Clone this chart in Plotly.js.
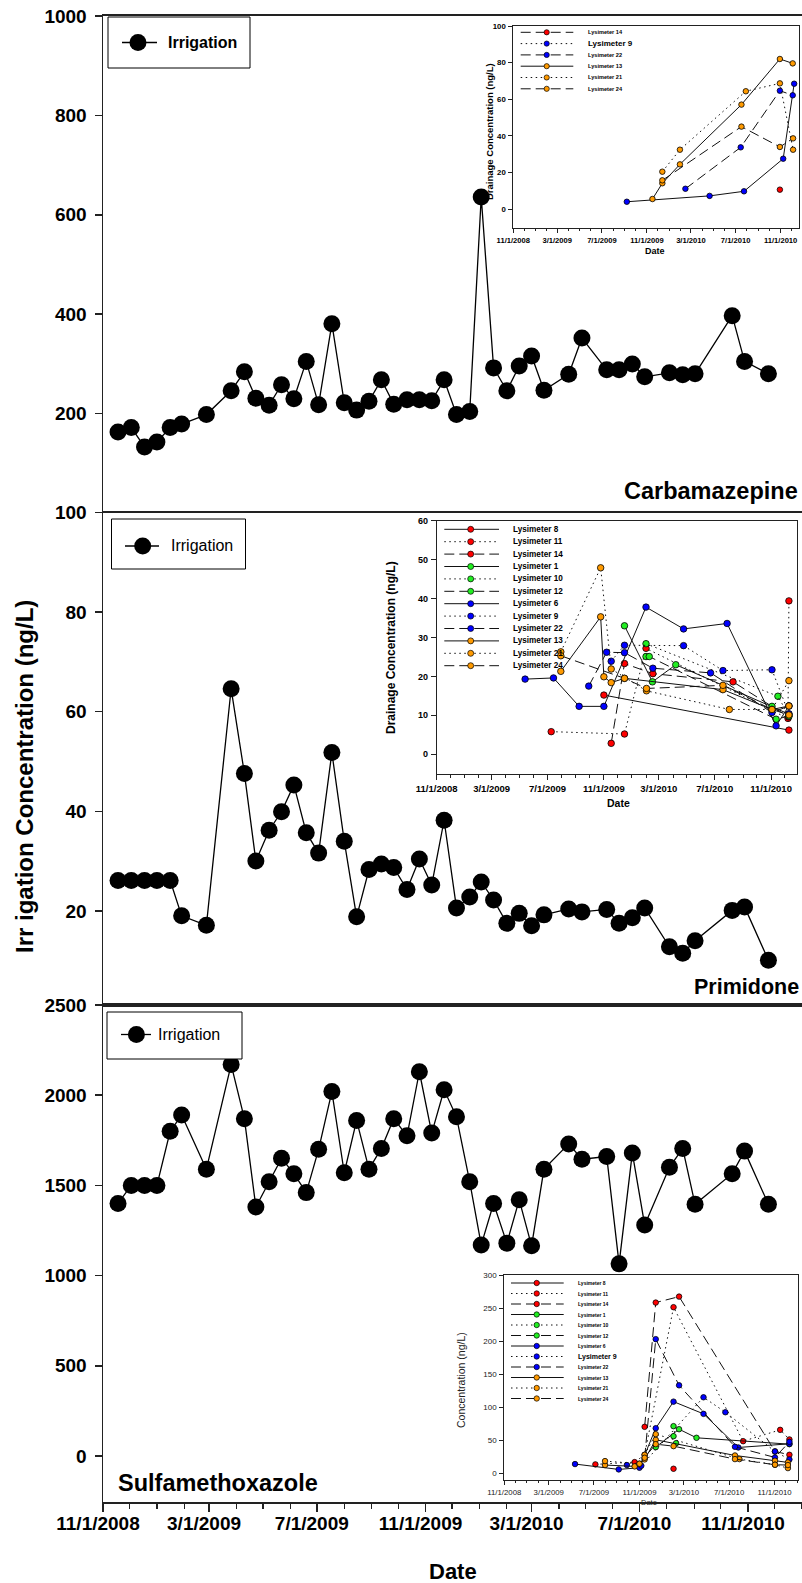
<!DOCTYPE html>
<html><head><meta charset="utf-8">
<script src="https://cdn.plot.ly/plotly-3.0.1.min.js"></script>
<style>html,body{margin:0;padding:0;background:#fff}#chart{width:802px;height:1583px}</style>
</head><body><div id="chart"></div>
<script>
// ---------------- DATA ----------------
const sampleDates = ['2008-11-18','2008-12-03','2008-12-18','2009-01-01','2009-01-16','2009-01-29','2009-02-26','2009-03-26','2009-04-10','2009-04-23','2009-05-08','2009-05-22','2009-06-05','2009-06-19','2009-07-03','2009-07-18','2009-08-01','2009-08-15','2009-08-29','2009-09-12','2009-09-26','2009-10-11','2009-10-25','2009-11-08','2009-11-22','2009-12-06','2009-12-21','2010-01-03','2010-01-17','2010-02-01','2010-02-15','2010-03-01','2010-03-15','2010-04-12','2010-04-27','2010-05-25','2010-06-08','2010-06-23','2010-07-07','2010-08-04','2010-08-19','2010-09-02','2010-10-14','2010-10-28','2010-11-24'];
const carbamazepine = [163,172,133,143,172,179,198,246,284,231,217,258,230,305,218,381,222,207,225,268,219,228,228,226,268,198,204,636,292,246,296,316,247,279,352,288,288,300,274,282,278,280,397,305,280];
const primidone = [26.1,26.1,26.1,26.1,26.1,19.0,17.1,64.6,47.6,30.0,36.2,39.9,45.3,35.7,31.6,51.8,34.0,18.8,28.3,29.4,28.7,24.3,30.4,25.2,38.2,20.6,22.8,25.8,22.2,17.5,19.5,17.0,19.2,20.4,19.8,20.3,17.5,18.6,20.6,12.8,11.5,14.0,20.1,20.8,10.1];
const sulfamethoxazole = [1400,1500,1500,1500,1800,1890,1590,2170,1870,1380,1520,1650,1565,1460,1700,2020,1570,1860,1590,1705,1870,1775,2130,1790,2030,1880,1520,1170,1400,1180,1420,1165,1590,1730,1645,1660,1065,1680,1280,1600,1705,1395,1565,1690,1395];
const mainYTicks1 = [200,400,600,800,1000];
const mainYTicks2 = [20,40,60,80,100];
const mainYTicks3 = [0,500,1000,1500,2000,2500];

// Carbamazepine drainage (inset 1)
const cbzLys14 = [['2010-10-30',10.7]];
const cbzLys9  = [['2009-09-07',4.1],['2010-04-21',7.3],['2010-07-24',9.8],['2010-11-08',27.6],['2010-12-08',68.5]];
const cbzLys22 = [['2010-02-14',11.2],['2010-07-15',33.8],['2010-10-30',64.7],['2010-12-04',62.2]];
const cbzLys13 = [['2009-11-16',5.6],['2009-12-13',14.2],['2010-01-30',24.5],['2010-07-17',57.1],['2010-10-30',82.0],['2010-12-04',79.6]];
const cbzLys21 = [['2009-12-13',20.5],['2010-01-30',32.5],['2010-07-29',64.4],['2010-10-30',68.7],['2010-12-05',32.5]];
const cbzLys24 = [['2009-12-13',15.8],['2010-07-17',45.1],['2010-10-30',34.0],['2010-12-05',38.7]];

// Primidone drainage (inset 2)
const pmdLys8  = [['2009-11-01',15.2],['2010-12-10',6.2]];
const pmdLys11 = [['2009-07-09',5.8],['2009-12-16',5.2],['2010-02-01',27.2],['2010-12-08',9.2],['2010-12-10',39.4]];
const pmdLys14 = [['2009-11-17',2.8],['2009-12-16',23.3],['2010-02-16',20.7],['2010-08-10',18.6],['2010-12-09',9.6]];
const pmdLys1  = [['2009-12-16',33.0],['2010-02-15',18.6],['2010-04-07',23.0],['2010-11-03',12.3],['2010-12-10',10.3]];
const pmdLys10 = [['2010-02-01',28.4],['2010-11-16',14.9],['2010-12-10',9.8]];
const pmdLys12 = [['2010-02-01',25.1],['2010-02-08',25.1],['2010-11-12',9.0],['2010-12-10',9.8]];
const pmdLys6  = [['2009-05-13',19.3],['2009-07-14',19.6],['2009-09-08',12.3],['2009-11-01',12.3],['2010-02-01',37.8],['2010-04-24',32.2],['2010-07-28',33.6],['2010-11-12',7.3],['2010-12-10',12.4]];
const pmdLys9  = [['2009-11-17',23.9],['2009-12-16',28.0],['2010-04-24',27.9],['2010-07-19',21.5],['2010-11-03',21.7],['2010-12-10',10.4]];
const pmdLys22 = [['2009-09-29',17.5],['2009-11-07',26.2],['2009-12-16',26.1],['2010-02-16',22.1],['2010-06-22',20.9],['2010-11-03',10.7],['2010-12-10',12.4]];
const pmdLys13 = [['2009-07-30',21.3],['2009-10-25',35.3],['2009-11-01',19.9],['2009-11-17',18.4],['2009-12-16',19.5],['2010-07-19',16.6],['2010-11-03',11.5],['2010-12-10',12.4]];
const pmdLys21 = [['2009-07-30',26.3],['2009-10-25',47.9],['2009-11-17',21.9],['2010-02-02',16.3],['2010-08-02',11.5],['2010-11-03',11.5],['2010-12-10',18.9]];
const pmdLys24 = [['2009-07-30',25.3],['2009-12-16',19.5],['2010-02-02',16.9],['2010-07-19',17.7],['2010-11-03',11.5],['2010-12-10',10.1]];

// Sulfamethoxazole drainage (inset 3)
const smxLys8  = [['2010-02-01',7.0]];
const smxLys11 = [['2009-07-05',13.6],['2009-10-19',17.1],['2009-11-15',28.1],['2010-02-01',251.3],['2010-08-08',48.7],['2010-11-16',65.8],['2010-12-11',51.3]];
const smxLys14 = [['2009-11-15',70.4],['2009-12-15',258.3],['2010-02-16',267.3],['2010-11-02',33.2],['2010-12-11',28.1]];
const smxLys1  = [['2009-12-15',39.7],['2010-02-16',66.8],['2010-04-04',53.8],['2010-12-11',44.2]];
const smxLys10 = [['2010-02-01',71.4],['2010-02-08',45.7]];
const smxLys12 = [['2010-02-01',56.3]];
const smxLys6  = [['2009-05-11',14.1],['2009-09-06',6.0],['2009-11-01',8.5],['2009-12-15',68.3],['2010-02-01',108.5],['2010-04-23',90.0],['2010-07-26',39.2],['2010-12-11',44.7]];
const smxLys9  = [['2009-09-28',12.6],['2009-11-06',11.6],['2010-04-23',115.1],['2010-06-21',92.5],['2010-11-02',33.2],['2010-12-11',21.1]];
const smxLys22 = [['2009-11-15',23.6],['2009-12-15',203.0],['2010-02-16',133.2],['2010-07-17',40.2],['2010-11-02',24.1],['2010-12-11',47.7]];
const smxLys13 = [['2009-07-31',12.6],['2009-10-19',10.6],['2009-11-15',21.1],['2009-12-15',50.8],['2010-07-17',27.1],['2010-11-02',19.1],['2010-12-07',16.6]];
const smxLys21 = [['2009-07-31',18.6],['2009-11-01',14.6],['2009-11-15',28.1],['2009-12-15',59.3],['2010-07-29',21.6],['2010-11-02',13.1],['2010-12-07',8.0]];
const smxLys24 = [['2009-11-01',14.6],['2009-11-15',23.6],['2009-12-15',44.2],['2010-02-01',41.2],['2010-07-17',21.6],['2010-11-02',13.1],['2010-12-07',12.6]];

// ---------------- STYLE / LAYOUT HELPERS ----------------
const W = 802, H = 1583;
const px = x => x / W;
const py = y => 1 - y / H;
const FONT = '"Liberation Sans", Arial, Helvetica, sans-serif';
const RED = '#ff0000', GREEN = '#22ee22', BLUE = '#0000ff', ORANGE = '#ff9a00';
const DASH = {solid: 'solid', dot: '1.5px,3.5px', dash: '10px,5px'};

const inset1Series = [
  {name:'Lysimeter 14', data:cbzLys14, color:RED, dash:'dash'},
  {name:'Lysimeter 9', data:cbzLys9, color:BLUE, dash:'dot', lineDash:'solid', big:true},
  {name:'Lysimeter 22', data:cbzLys22, color:BLUE, dash:'dash'},
  {name:'Lysimeter 13', data:cbzLys13, color:ORANGE, dash:'solid'},
  {name:'Lysimeter 21', data:cbzLys21, color:ORANGE, dash:'dot'},
  {name:'Lysimeter 24', data:cbzLys24, color:ORANGE, dash:'dash'}
];
const inset2Series = [
  {name:'Lysimeter 8', data:pmdLys8, color:RED, dash:'solid'},
  {name:'Lysimeter 11', data:pmdLys11, color:RED, dash:'dot'},
  {name:'Lysimeter 14', data:pmdLys14, color:RED, dash:'dash'},
  {name:'Lysimeter 1', data:pmdLys1, color:GREEN, dash:'solid'},
  {name:'Lysimeter 10', data:pmdLys10, color:GREEN, dash:'dot'},
  {name:'Lysimeter 12', data:pmdLys12, color:GREEN, dash:'dash'},
  {name:'Lysimeter 6', data:pmdLys6, color:BLUE, dash:'solid'},
  {name:'Lysimeter 9', data:pmdLys9, color:BLUE, dash:'dot'},
  {name:'Lysimeter 22', data:pmdLys22, color:BLUE, dash:'dash'},
  {name:'Lysimeter 13', data:pmdLys13, color:ORANGE, dash:'solid'},
  {name:'Lysimeter 21', data:pmdLys21, color:ORANGE, dash:'dot'},
  {name:'Lysimeter 24', data:pmdLys24, color:ORANGE, dash:'dash'}
];
const inset3Series = [
  {name:'Lysimeter 8', data:smxLys8, color:RED, dash:'solid'},
  {name:'Lysimeter 11', data:smxLys11, color:RED, dash:'dot'},
  {name:'Lysimeter 14', data:smxLys14, color:RED, dash:'dash'},
  {name:'Lysimeter 1', data:smxLys1, color:GREEN, dash:'solid'},
  {name:'Lysimeter 10', data:smxLys10, color:GREEN, dash:'dot'},
  {name:'Lysimeter 12', data:smxLys12, color:GREEN, dash:'dash'},
  {name:'Lysimeter 6', data:smxLys6, color:BLUE, dash:'solid'},
  {name:'Lysimeter 9', data:smxLys9, color:BLUE, dash:'dot', big:true},
  {name:'Lysimeter 22', data:smxLys22, color:BLUE, dash:'dash'},
  {name:'Lysimeter 13', data:smxLys13, color:ORANGE, dash:'solid'},
  {name:'Lysimeter 21', data:smxLys21, color:ORANGE, dash:'dot'},
  {name:'Lysimeter 24', data:smxLys24, color:ORANGE, dash:'dash'}
];

const traces = [];
function mainTrace(vals, xa, ya) {
  traces.push({type:'scatter', mode:'lines+markers', x:sampleDates, y:vals, xaxis:xa, yaxis:ya,
    name:'Irrigation', line:{color:'#000', width:1.3}, marker:{color:'#000', size:17}, cliponaxis:false});
}
mainTrace(carbamazepine, 'x', 'y');
mainTrace(primidone, 'x2', 'y2');
mainTrace(sulfamethoxazole, 'x3', 'y3');

function insetTraces(series, xa, ya, msize) {
  series.forEach(s => {
    traces.push({type:'scatter', mode:'lines+markers', name:s.name, xaxis:xa, yaxis:ya,
      x:s.data.map(d => d[0]), y:s.data.map(d => d[1]),
      line:{color:'#111', width:1, dash:DASH[s.lineDash || s.dash]},
      marker:{color:s.color, size:msize, line:{color:'#000', width:0.8}}});
  });
}
insetTraces(inset1Series, 'x4', 'y4', 5.5);
insetTraces(inset2Series, 'x5', 'y5', 6.5);
insetTraces(inset3Series, 'x6', 'y6', 5.5);

const shapes = [];
const annotations = [];
function ann(x, y, text, size, opts) {
  annotations.push(Object.assign({xref:'paper', yref:'paper', x:px(x), y:py(y), text:text, showarrow:false,
    xanchor:'center', yanchor:'middle', font:{family:FONT, size:size, color:'#000'}}, opts || {}));
}
function bold(size) { return {family:FONT, size:size, color:'#000', weight:'bold'}; }

// main legends (Irrigation)
function mainLegend(box, lx0, lx1, ly, mx, tx, fontW) {
  shapes.push({type:'rect', xref:'paper', yref:'paper', x0:px(box[0]), y0:py(box[1]), x1:px(box[2]), y1:py(box[3]),
    line:{color:'#000', width:1}, fillcolor:'#fff'});
  shapes.push({type:'line', xref:'paper', yref:'paper', x0:px(lx0), x1:px(lx1), y0:py(ly), y1:py(ly), line:{color:'#000', width:1.3}});
  shapes.push({type:'circle', xref:'paper', yref:'paper', xsizemode:'pixel', ysizemode:'pixel', xanchor:px(mx), yanchor:py(ly),
    x0:-8.5, x1:8.5, y0:-8.5, y1:8.5, fillcolor:'#000', line:{color:'#000', width:0}});
  ann(tx, ly, 'Irrigation', 16, {xanchor:'left', font:{family:FONT, size:16, color:'#000', weight:fontW}});
}
mainLegend([108,17,250,68], 122, 157, 42.5, 138, 166, 'bold');
mainLegend([111.5,519,245.5,569], 125, 159, 546, 142.7, 169, 'normal');
mainLegend([107,1012,242,1059], 121, 151, 1034.5, 136.4, 156, 'normal');

// inset legends
function insetLegend(series, o) {
  series.forEach((s, i) => {
    const y = o.top + i * o.step;
    shapes.push({type:'line', xref:'paper', yref:'paper', x0:px(o.x0), x1:px(o.x1), y0:py(y), y1:py(y),
      line:{color:'#111', width:1, dash:DASH[s.dash]}});
    shapes.push({type:'circle', xref:'paper', yref:'paper', xsizemode:'pixel', ysizemode:'pixel', xanchor:px(o.xm), yanchor:py(y),
      x0:-o.r, x1:o.r, y0:-o.r, y1:o.r, fillcolor:s.color, line:{color:'#000', width:0.7}});
    ann(o.xt, y, s.name, s.big ? o.big : o.size, {xanchor:'left', font:bold(s.big ? o.big : o.size)});
  });
}
insetLegend(inset1Series, {top:32.3, step:11.3, x0:520.7, x1:573.3, xm:546.7, xt:585.5, r:2.6, size:5.6, big:8});
insetLegend(inset2Series, {top:529.3, step:12.4, x0:444.3, x1:499, xm:470.7, xt:510.5, r:3, size:8.2, big:8.4});
insetLegend(inset3Series, {top:1283, step:10.5, x0:511, x1:563.7, xm:536.7, xt:576, r:2.7, size:5, big:7});

// panel labels and titles
ann(800, 491, 'Carbamazepine', 23.5, {xanchor:'right', font:bold(23.5)});
ann(801, 987, 'Primidone', 21.5, {xanchor:'right', font:bold(21.5)});
ann(116, 1483, 'Sulfamethoxazole', 23.5, {xanchor:'left', font:bold(23.5)});
ann(24, 777, 'Irr igation Concentration (ng/L)', 24, {textangle:-90, font:bold(24)});
ann(453, 1571, 'Date', 22, {font:bold(22)});
// inset titles
ann(489, 132, 'Drainage Concentration (ng/L)', 9.5, {textangle:-90, font:bold(9.5)});
ann(655, 251, 'Date', 9, {font:bold(9)});
ann(391, 648, 'Drainage Concentration (ng/L)', 12, {textangle:-90, font:bold(12)});
ann(618, 803, 'Date', 10.5, {font:bold(10.5)});
ann(461, 1380, 'Concentration (ng/L)', 10.5, {textangle:-90, font:{family:FONT, size:10.5, color:'#222'}});
ann(649, 1502, 'Date', 7.5, {font:{family:FONT, size:7.5, color:'#222'}});

// ---------------- AXES ----------------
const X0 = '2008-11-01', X1 = '2011-01-01';
function mainX(anchor, withTicks) {
  const a = {type:'date', domain:[px(103), 1], range:[X0, X1], anchor:anchor, showline:true, mirror:true,
    linecolor:'#222', linewidth:2, showgrid:false, zeroline:false, fixedrange:true};
  if (withTicks) {
    Object.assign(a, {ticks:'outside', ticklen:8, tickwidth:1.5, tickcolor:'#222', tick0:'2008-11-01', dtick:'M4',
      tickformat:'%-m/%-d/%Y', tickfont:bold(19), ticklabelshift:-5, ticklabelstandoff:-5,
      minor:{dtick:'M1', ticks:'outside', ticklen:5, tickwidth:1.2, tickcolor:'#222'}});
  } else {
    Object.assign(a, {ticks:'', showticklabels:false});
  }
  return a;
}
function mainY(domTop, domBot, range, tv, anchor) {
  return {domain:[py(domBot), py(domTop)], range:range, anchor:anchor, tickvals:tv, ticktext:tv.map(String),
    ticks:'outside', ticklen:7, tickwidth:1.5, tickcolor:'#222', tickfont:bold(19), showline:true, linecolor:'#222',
    linewidth:1.5, showgrid:false, zeroline:false, fixedrange:true, ticklabelstandoff:4};
}
function insetX(l, r, range, anchor, font, tl) {
  return {type:'date', domain:[px(l), px(r)], range:range, anchor:anchor, showline:true, mirror:true, linecolor:'#222',
    linewidth:1, showgrid:false, zeroline:false, ticks:'outside', ticklen:tl, tickwidth:1, tickcolor:'#222',
    tick0:'2008-11-01', dtick:'M4', tickformat:'%-m/%-d/%Y', tickfont:font, ticklabelstandoff:1,
    minor:{dtick:'M1', ticks:'outside', ticklen:tl * 0.6, tickwidth:1, tickcolor:'#222'}, fixedrange:true};
}
function insetY(t, b, range, dtick, anchor, font, tl) {
  return {domain:[py(b), py(t)], range:range, anchor:anchor, showline:true, mirror:true, linecolor:'#222', linewidth:1,
    showgrid:false, zeroline:false, ticks:'outside', ticklen:tl, tickwidth:1, tickcolor:'#222', tick0:0, dtick:dtick,
    tickfont:font, ticklabelstandoff:1, fixedrange:true};
}

const layout = {
  width:W, height:H, margin:{l:0, r:0, t:0, b:0, pad:0}, showlegend:false,
  paper_bgcolor:'#fff', plot_bgcolor:'#fff', font:{family:FONT, color:'#000'},
  xaxis: mainX('y', false),
  xaxis2: mainX('y2', false),
  xaxis3: mainX('y3', true),
  yaxis: mainY(16, 513, [0, 1000], mainYTicks1, 'x'),
  yaxis2: mainY(512.5, 1005, [1.1, 100], mainYTicks2, 'x2'),
  yaxis3: mainY(1005, 1502, [-255, 2500], mainYTicks3, 'x3'),
  xaxis4: insetX(513.3, 799.3, ['2008-11-01', '2010-12-22'], 'y4', bold(7.6), 4),
  yaxis4: insetY(26, 227.6, [-10, 100], 20, 'x4', bold(7.8), 4),
  xaxis5: insetX(436.7, 796.7, ['2008-11-01', '2010-12-27'], 'y5', bold(9.5), 5),
  yaxis5: insetY(520.7, 773.7, [-5, 60], 10, 'x5', bold(9), 5),
  xaxis6: insetX(504.3, 798.3, ['2008-11-01', '2011-01-04'], 'y6', {family:FONT, size:7.8, color:'#222'}, 4),
  yaxis6: insetY(1275, 1480, [-10, 300], 50, 'x6', {family:FONT, size:8, color:'#222'}, 4),
  shapes:shapes, annotations:annotations
};

Plotly.newPlot('chart', traces, layout, {staticPlot:true, displayModeBar:false});
</script>
</body></html>
